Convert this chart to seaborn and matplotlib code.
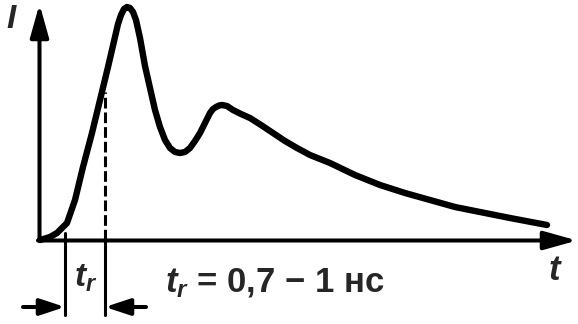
import matplotlib
matplotlib.use("Agg")
import matplotlib.pyplot as plt
import seaborn as sns
import pandas as pd

# Pulse current I(t) (arbitrary units)
t_vals = [0, 10, 17, 27, 35, 43, 52, 60, 68, 75, 78, 81, 84, 87, 90, 93, 96, 100,
          105, 110, 115, 120, 125, 130, 135, 140, 145, 150, 155, 160, 165, 170,
          173, 176, 179, 182, 187, 193, 201, 210, 221, 233, 245, 257, 270, 290,
          315, 340, 365, 390, 415, 440, 470, 507]
i_vals = [0, 3, 7, 17, 40, 73, 107, 140, 173, 203, 216, 225, 231, 233, 232, 228,
          220, 202, 174, 152, 130, 113, 100, 92, 88, 87, 88, 92, 99, 107, 117,
          127, 131, 133, 134.5, 135, 134, 130, 126, 122, 115, 107, 99, 92, 85,
          77, 65, 55, 47, 40, 33, 28, 22, 15]

# rise-time markers
tr_start = 25
tr_end = 65
tr_level = 148

y_label = "I"
x_label = "t"
tr_label = r"$t_r$"
tr_text = r"$t_r$ = 0,7 − 1 нс"

sns.set_style("white")
plt.rcParams["font.family"] = ["Liberation Sans", "DejaVu Sans"]
plt.rcParams["mathtext.fontset"] = "custom"
plt.rcParams["mathtext.rm"] = "Liberation Sans:bold"
plt.rcParams["mathtext.it"] = "Liberation Sans:italic:bold"

fig = plt.figure(figsize=(5.78, 3.24), dpi=100)
ax = fig.add_axes([0, 0, 1, 1])
ax.set_xlim(-40, 538)
ax.set_ylim(-84, 240)
ax.axis("off")

df = pd.DataFrame({"t": t_vals, "I": i_vals})
sns.lineplot(data=df, x="t", y="I", ax=ax, color="black", linewidth=4.6,
             sort=False, solid_capstyle="round", solid_joinstyle="round",
             zorder=5)

# axes with arrows
ax.annotate("", xy=(-0.5, 236), xytext=(-0.5, -0.5),
            arrowprops=dict(arrowstyle="-|>,head_length=1.0,head_width=0.28",
                            mutation_scale=20, color="black", lw=2.9,
                            shrinkA=0, shrinkB=0))
ax.annotate("", xy=(537, -0.5), xytext=(-2, -0.5),
            arrowprops=dict(arrowstyle="-|>,head_length=1.0,head_width=0.28",
                            mutation_scale=20, color="black", lw=2.9,
                            shrinkA=0, shrinkB=0))

# dashed guide to the curve
ax.plot([tr_end, tr_end], [0, tr_level], color="black", lw=2.2,
        linestyle=(0, (3.5, 1.3)))
# extension lines
ax.plot([tr_start, tr_start], [7, -75], color="black", lw=2.2)
ax.plot([tr_end, tr_end], [0, -75], color="black", lw=2.2)

# dimension arrows
ax.annotate("", xy=(tr_start, -67), xytext=(-17, -67),
            arrowprops=dict(arrowstyle="-|>,head_length=1.0,head_width=0.33",
                            mutation_scale=15, color="black", lw=2.9,
                            shrinkA=0, shrinkB=0))
ax.annotate("", xy=(tr_end, -67), xytext=(106, -67),
            arrowprops=dict(arrowstyle="-|>,head_length=1.0,head_width=0.33",
                            mutation_scale=15, color="black", lw=2.9,
                            shrinkA=0, shrinkB=0))

ax.text(-29, 212, y_label, fontsize=24, style="italic", weight="bold",
        ha="center", va="baseline")
ax.text(514, -30, x_label, fontsize=25, style="italic", weight="bold",
        ha="center", va="center")
ax.text(46, -38, tr_label, fontsize=24, ha="center", va="center")
ax.text(125, -52, tr_text, fontsize=25, weight="bold", ha="left",
        va="baseline")

fig.savefig("out.png", dpi=100)
